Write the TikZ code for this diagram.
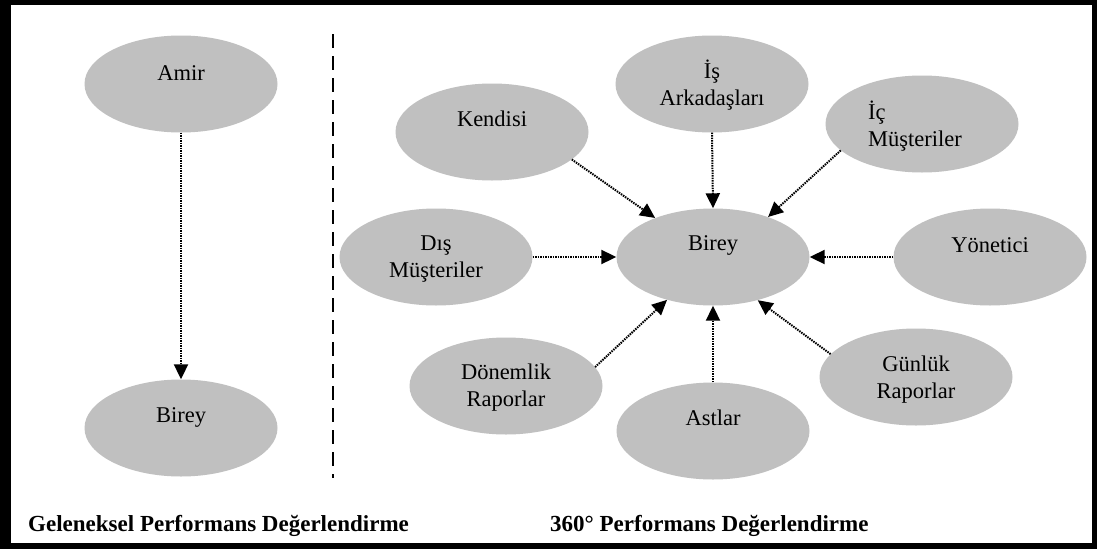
\documentclass[tikz,border=0pt]{standalone}
\usepackage{fontspec}
\setmainfont{Liberation Serif}
\usetikzlibrary{shapes.geometric,arrows.meta}
\definecolor{blobgray}{RGB}{192,192,192}
\begin{document}
\begin{tikzpicture}[x=1pt,y=-1pt,
  blob/.style={ellipse, fill=blobgray, minimum width=193pt, minimum height=97pt, inner sep=0pt},
  txt/.style={font=\fontsize{22.5}{27}\selectfont, align=center, inner sep=0pt},
  link/.style={line width=2pt, dash pattern=on 1.5pt off 1pt, -{Triangle[length=15pt,width=14pt]}},
  lbl/.style={font=\fontsize{23}{26}\selectfont\bfseries, inner sep=0pt}]
\useasboundingbox (0,0) rectangle (1097,549);
\fill[black] (0,0) rectangle (1097,549);
\fill[white] (11,5) rectangle (1092,543);
% left part
\node[blob] (amir) at (181,84) {};
\node[txt] (amirT) at ([yshift=11pt]amir.center) {Amir};
\node[blob] (bireyL) at (181,428) {};
\node[txt] (bireyLT) at ([yshift=11pt]bireyL.center) {Birey};
\draw[link] (amir.south) -- (bireyL.north);
% separator
\draw[line width=2.6pt, dash pattern=on 14pt off 8pt] (333,34) -- (333,478);
% right part
\node[blob] (birey) at (713,257) {};
\node[txt] (bireyT) at ([yshift=12pt]birey.center) {Birey};
\node[blob] (kendisi) at (492,132) {};
\node[txt] (kendisiT) at ([yshift=13pt]kendisi.center) {Kendisi};
\node[blob] (isark) at (712,84) {};
\node[txt] (isarkT) at ([yshift=-1pt]isark.center) {İş\\Arkadaşları};
\node[blob] (icm) at (922,124) {};
\node[txt, align=left] (icmT) at ([xshift=-7pt,yshift=-2pt]icm.center) {İç\\Müşteriler};
\node[blob] (dism) at (436,257) {};
\node[txt] (dismT) at ([yshift=-2pt]dism.center) {Dış\\Müşteriler};
\node[blob] (yon) at (990,257) {};
\node[txt] (yonT) at ([yshift=12pt]yon.center) {Yönetici};
\node[blob] (donem) at (506,386) {};
\node[txt] (donemT) at ([yshift=-2pt]donem.center) {Dönemlik\\Raporlar};
\node[blob] (astlar) at (713,431) {};
\node[txt] (astlarT) at ([yshift=13pt]astlar.center) {Astlar};
\node[blob] (gunluk) at (916,377) {};
\node[txt] (gunlukT) at ([yshift=-3pt]gunluk.center) {Günlük\\Raporlar};
\draw[link] (kendisi.-19) -- (birey.146);
\draw[link] (isark.south) -- (birey.north);
\draw[link] (icm.-162) -- (birey.36);
\draw[link] (dism.east) -- (birey.west);
\draw[link] (yon.west) -- (birey.east);
\draw[link] (donem.12) -- (birey.-137);
\draw[link] (astlar.north) -- (birey.south);
\draw[link] (gunluk.165) -- (birey.-44);
% captions
\node[lbl, anchor=base west] (capL) at (28,531) {Geleneksel Performans Değerlendirme};
\node[lbl, anchor=base west] (capR) at (550,531) {360° Performans Değerlendirme};
\end{tikzpicture}
\end{document}
